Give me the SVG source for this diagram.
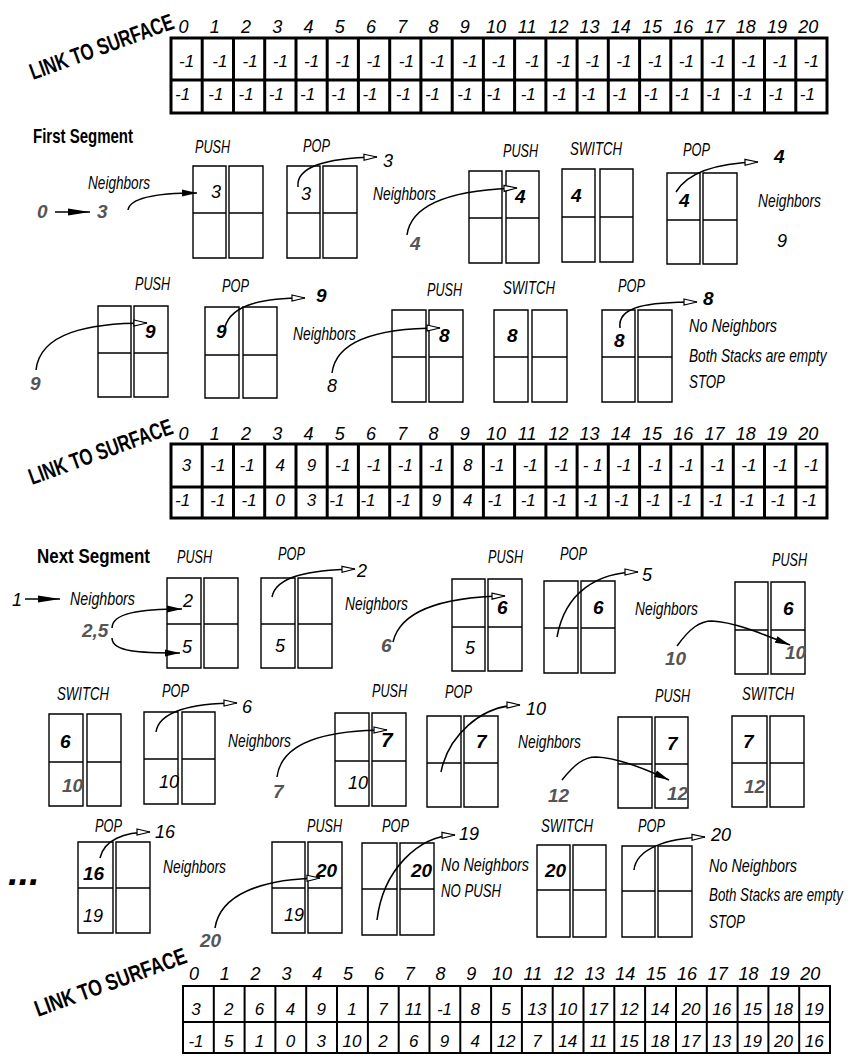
<svg xmlns="http://www.w3.org/2000/svg" width="851" height="1059" viewBox="0 0 851 1059">
<style>
text{font-family:"Liberation Sans",Arial,sans-serif;fill:#000}
.l{font-style:italic;font-size:18px}
.n{font-style:italic;font-size:17px;text-anchor:middle}
.ix{font-style:italic;font-size:18px;text-anchor:middle}
.bn{font-style:italic;font-weight:bold;font-size:19px}
.gn{font-style:italic;font-weight:bold;font-size:19px;fill:#555}
.h{font-weight:bold;font-size:21px}
.lts{font-weight:bold;font-size:23px}
.grid{fill:none;stroke:#000;stroke-width:3}
.grid3{fill:none;stroke:#000;stroke-width:2}
.stk{fill:none;stroke:#000;stroke-width:1.4}
.cv{fill:none;stroke:#000;stroke-width:1.5}
</style>
<defs>
<marker id="ah" markerUnits="userSpaceOnUse" markerWidth="16" markerHeight="10" refX="14" refY="5" orient="auto" viewBox="0 0 16 10"><path d="M1,2 L14,5 L1,8 Z" fill="#fff" stroke="#000" stroke-width="1.2"/></marker>
<marker id="fh" markerUnits="userSpaceOnUse" markerWidth="16" markerHeight="10" refX="15" refY="5" orient="auto" viewBox="0 0 16 10"><path d="M0,1.5 L15,5 L0,8.5 Z" fill="#000"/></marker>
<marker id="fb" markerUnits="userSpaceOnUse" markerWidth="22" markerHeight="8" refX="22" refY="4" orient="auto" viewBox="0 0 22 8"><path d="M0,0.5 L22,4 L0,7.5 Z" fill="#000"/></marker>
</defs>
<rect width="851" height="1059" fill="#fff"/>

<!-- Table 1 -->
<g id="table1">
<text class="lts" transform="translate(33,80) rotate(-20) scale(0.73,1)">LINK TO SURFACE</text>
<text class="ix" y="33"><tspan x="183.5">0</tspan><tspan x="214.7">1</tspan><tspan x="246">2</tspan><tspan x="277.2">3</tspan><tspan x="308.5">4</tspan><tspan x="339.7">5</tspan><tspan x="370.9">6</tspan><tspan x="402.2">7</tspan><tspan x="433.4">8</tspan><tspan x="464.7">9</tspan><tspan x="495.9">10</tspan><tspan x="527.1">11</tspan><tspan x="558.4">12</tspan><tspan x="589.6">13</tspan><tspan x="620.8">14</tspan><tspan x="652.1">15</tspan><tspan x="683.3">16</tspan><tspan x="714.6">17</tspan><tspan x="745.8">18</tspan><tspan x="777">19</tspan><tspan x="808.3">20</tspan></text>
<path class="grid" d="M171,38 H827 V113 H171 Z M171,80 H827 M202.2,38 V113 M233.5,38 V113 M264.7,38 V113 M296,38 V113 M327.2,38 V113 M358.4,38 V113 M389.7,38 V113 M420.9,38 V113 M452.2,38 V113 M483.4,38 V113 M514.6,38 V113 M545.9,38 V113 M577.1,38 V113 M608.3,38 V113 M639.6,38 V113 M670.8,38 V113 M702.1,38 V113 M733.3,38 V113 M764.5,38 V113 M795.8,38 V113"/>
<text class="n" y="67"><tspan x="186.6">-1</tspan><tspan x="219.8">-1</tspan><tspan x="250.1">-1</tspan><tspan x="280.3">-1</tspan><tspan x="311.6">-1</tspan><tspan x="342.8">-1</tspan><tspan x="374">-1</tspan><tspan x="406.3">-1</tspan><tspan x="437.5">-1</tspan><tspan x="469.8">-1</tspan><tspan x="499">-1</tspan><tspan x="532.2">-1</tspan><tspan x="563.5">-1</tspan><tspan x="592.7">-1</tspan><tspan x="623.9">-1</tspan><tspan x="655.2">-1</tspan><tspan x="686.4">-1</tspan><tspan x="717.7">-1</tspan><tspan x="748.9">-1</tspan><tspan x="780.1">-1</tspan><tspan x="811.4">-1</tspan></text>
<text class="n" y="100"><tspan x="182.6">-1</tspan><tspan x="215.8">-1</tspan><tspan x="246.1">-1</tspan><tspan x="276.3">-1</tspan><tspan x="307.6">-1</tspan><tspan x="338.8">-1</tspan><tspan x="370">-1</tspan><tspan x="403.3">-1</tspan><tspan x="432.5">-1</tspan><tspan x="464.8">-1</tspan><tspan x="494">-1</tspan><tspan x="528.2">-1</tspan><tspan x="559.5">-1</tspan><tspan x="588.7">-1</tspan><tspan x="619.9">-1</tspan><tspan x="651.2">-1</tspan><tspan x="682.4">-1</tspan><tspan x="713.7">-1</tspan><tspan x="744.9">-1</tspan><tspan x="776.1">-1</tspan><tspan x="807.4">-1</tspan></text>
</g>

<!-- First segment free labels -->
<g id="first-segment-labels">
<text class="h" x="33" y="143" textLength="100" lengthAdjust="spacingAndGlyphs">First Segment</text>
<text class="l" x="88" y="189" textLength="62" lengthAdjust="spacingAndGlyphs">Neighbors</text>
<text class="gn" x="37" y="218">0</text>
<text class="gn" x="97" y="218">3</text>
<text class="l" x="383" y="167">3</text>
<text class="l" x="373" y="200" textLength="63" lengthAdjust="spacingAndGlyphs">Neighbors</text>
<text class="gn" x="410" y="250">4</text>
<text class="bn" x="774" y="163">4</text>
<text class="l" x="758" y="207" textLength="63" lengthAdjust="spacingAndGlyphs">Neighbors</text>
<text class="l" x="777" y="247">9</text>
<text class="gn" x="30" y="390">9</text>
<text class="bn" x="316" y="302">9</text>
<text class="l" x="293" y="340" textLength="63" lengthAdjust="spacingAndGlyphs">Neighbors</text>
<text class="l" x="327" y="392">8</text>
<text class="bn" x="703" y="305">8</text>
<text class="l" transform="translate(689,332) scale(0.8,1)">No Neighbors</text>
<text class="l" transform="translate(689,362) scale(0.76,1)">Both Stacks are empty</text>
<text class="l" x="689" y="388" textLength="36" lengthAdjust="spacingAndGlyphs">STOP</text>
</g>

<g id="s1-push"><text class="l" x="195" y="153" textLength="35" lengthAdjust="spacingAndGlyphs">PUSH</text><path class="stk" d="M193,166h33v92h-33z M229,166h34v92h-34z M193,213h33 M229,213h34"/><text class="l" x="211" y="198">3</text></g>
<g id="s1-pop"><text class="l" x="303" y="152" textLength="27" lengthAdjust="spacingAndGlyphs">POP</text><path class="stk" d="M287,166h33v92h-33z M323,166h34v92h-34z M287,213h33 M323,213h34"/><text class="l" x="301" y="200">3</text></g>
<g id="s1-push2"><text class="l" x="503" y="157" textLength="35" lengthAdjust="spacingAndGlyphs">PUSH</text><path class="stk" d="M469,171h33v92h-33z M506,171h33v92h-33z M469,218h33 M506,218h33"/><text class="bn" x="515" y="203">4</text></g>
<g id="s1-switch"><text class="l" x="570" y="155" textLength="52" lengthAdjust="spacingAndGlyphs">SWITCH</text><path class="stk" d="M562,169h33v93h-33z M600,169h33v93h-33z M562,217h33 M600,217h33"/><text class="bn" x="571" y="202">4</text></g>
<g id="s1-pop2"><text class="l" x="683" y="156" textLength="27" lengthAdjust="spacingAndGlyphs">POP</text><path class="stk" d="M667,173h33v91h-33z M703,173h34v91h-34z M667,220h33 M703,220h34"/><text class="bn" x="679" y="207">4</text></g>

<g id="s2-push"><text class="l" x="135" y="290" textLength="35" lengthAdjust="spacingAndGlyphs">PUSH</text><path class="stk" d="M98,306h33v91h-33z M134,306h34v91h-34z M98,353h33 M134,353h34"/><text class="bn" x="145" y="338">9</text></g>
<g id="s2-pop"><text class="l" x="222" y="292" textLength="27" lengthAdjust="spacingAndGlyphs">POP</text><path class="stk" d="M205,307h34v91h-34z M243,307h34v91h-34z M205,355h34 M243,355h34"/><text class="bn" x="216" y="338">9</text></g>
<g id="s2-push2"><text class="l" x="427" y="296" textLength="35" lengthAdjust="spacingAndGlyphs">PUSH</text><path class="stk" d="M392,310h34v92h-34z M429,310h34v92h-34z M392,357h34 M429,357h34"/><text class="bn" x="439" y="342">8</text></g>
<g id="s2-switch"><text class="l" x="503" y="294" textLength="52" lengthAdjust="spacingAndGlyphs">SWITCH</text><path class="stk" d="M494,310h34v92h-34z M532,310h35v92h-35z M494,357h34 M532,357h35"/><text class="bn" x="507" y="342">8</text></g>
<g id="s2-pop2"><text class="l" x="618" y="292" textLength="27" lengthAdjust="spacingAndGlyphs">POP</text><path class="stk" d="M602,310h33v92h-33z M638,310h34v92h-34z M602,357h33 M638,357h34"/><text class="bn" x="614" y="347">8</text></g>

<!-- Table 2 -->
<g id="table2">
<text class="lts" transform="translate(32,485) rotate(-20) scale(0.73,1)">LINK TO SURFACE</text>
<text class="ix" y="440"><tspan x="183.5">0</tspan><tspan x="214.7">1</tspan><tspan x="246">2</tspan><tspan x="277.2">3</tspan><tspan x="308.5">4</tspan><tspan x="339.7">5</tspan><tspan x="370.9">6</tspan><tspan x="402.2">7</tspan><tspan x="433.4">8</tspan><tspan x="464.7">9</tspan><tspan x="495.9">10</tspan><tspan x="527.1">11</tspan><tspan x="558.4">12</tspan><tspan x="589.6">13</tspan><tspan x="620.8">14</tspan><tspan x="652.1">15</tspan><tspan x="683.3">16</tspan><tspan x="714.6">17</tspan><tspan x="745.8">18</tspan><tspan x="777">19</tspan><tspan x="808.3">20</tspan></text>
<path class="grid" d="M171,444 H827 V518 H171 Z M171,487 H827 M202.2,444 V518 M233.5,444 V518 M264.7,444 V518 M296,444 V518 M327.2,444 V518 M358.4,444 V518 M389.7,444 V518 M420.9,444 V518 M452.2,444 V518 M483.4,444 V518 M514.6,444 V518 M545.9,444 V518 M577.1,444 V518 M608.3,444 V518 M639.6,444 V518 M670.8,444 V518 M702.1,444 V518 M733.3,444 V518 M764.5,444 V518 M795.8,444 V518"/>
<text class="n" y="471"><tspan x="186.6">3</tspan><tspan x="217.8">-1</tspan><tspan x="247.1">-1</tspan><tspan x="280.3">4</tspan><tspan x="311.6">9</tspan><tspan x="342.8">-1</tspan><tspan x="374">-1</tspan><tspan x="405.3">-1</tspan><tspan x="436.5">-1</tspan><tspan x="467.8">8</tspan><tspan x="497">-1</tspan><tspan x="530.2">-1</tspan><tspan x="561.5">-1</tspan><tspan x="592.7">- 1</tspan><tspan x="623.9">-1</tspan><tspan x="655.2">-1</tspan><tspan x="686.4">-1</tspan><tspan x="717.7">-1</tspan><tspan x="748.9">-1</tspan><tspan x="780.1">-1</tspan><tspan x="811.4">-1</tspan></text>
<text class="n" y="506"><tspan x="182.6">-1</tspan><tspan x="217.8">-1</tspan><tspan x="249.1">-1</tspan><tspan x="280.3">0</tspan><tspan x="311.6">3</tspan><tspan x="336.8">-1</tspan><tspan x="368">-1</tspan><tspan x="403.3">-1</tspan><tspan x="436.5">9</tspan><tspan x="467.8">4</tspan><tspan x="495">-1</tspan><tspan x="528.2">-1</tspan><tspan x="559.5">-1</tspan><tspan x="590.7">-1</tspan><tspan x="621.9">-1</tspan><tspan x="653.2">-1</tspan><tspan x="684.4">-1</tspan><tspan x="715.7">-1</tspan><tspan x="746.9">-1</tspan><tspan x="778.1">-1</tspan><tspan x="809.4">-1</tspan></text>
</g>

<!-- Next segment free labels -->
<g id="next-segment-labels">
<text class="h" x="37" y="563" textLength="113" lengthAdjust="spacingAndGlyphs">Next Segment</text>
<text class="l" x="12" y="606">1</text>
<text class="l" x="70" y="605" textLength="65" lengthAdjust="spacingAndGlyphs">Neighbors</text>
<text class="gn" x="82" y="637">2,5</text>
<text class="l" x="357" y="577">2</text>
<text class="l" x="345" y="610" textLength="63" lengthAdjust="spacingAndGlyphs">Neighbors</text>
<text class="gn" x="381" y="652">6</text>
<text class="l" x="642" y="581">5</text>
<text class="l" x="635" y="615" textLength="63" lengthAdjust="spacingAndGlyphs">Neighbors</text>
<text class="gn" x="665" y="665">10</text>
<text class="l" x="242" y="713">6</text>
<text class="l" x="228" y="747" textLength="63" lengthAdjust="spacingAndGlyphs">Neighbors</text>
<text class="gn" x="273" y="798">7</text>
<text class="l" x="526" y="715">10</text>
<text class="l" x="518" y="748" textLength="63" lengthAdjust="spacingAndGlyphs">Neighbors</text>
<text class="gn" x="548" y="802">12</text>
<text class="l" x="155" y="838">16</text>
<text class="bn" x="8" y="885" style="font-size:38px">...</text>
<text class="l" x="163" y="873" textLength="63" lengthAdjust="spacingAndGlyphs">Neighbors</text>
<text class="gn" x="200" y="947">20</text>
<text class="l" x="459" y="840">19</text>
<text class="l" transform="translate(441,871) scale(0.8,1)">No Neighbors</text>
<text class="l" x="441" y="897" textLength="60" lengthAdjust="spacingAndGlyphs">NO PUSH</text>
<text class="l" x="711" y="841">20</text>
<text class="l" transform="translate(709,872) scale(0.8,1)">No Neighbors</text>
<text class="l" transform="translate(709,901) scale(0.74,1)">Both Stacks are empty</text>
<text class="l" x="709" y="928" textLength="36" lengthAdjust="spacingAndGlyphs">STOP</text>
</g>

<g id="n1-push"><text class="l" x="177" y="563" textLength="35" lengthAdjust="spacingAndGlyphs">PUSH</text><path class="stk" d="M167,578h34v90h-34z M204,578h34v90h-34z M167,624h34 M204,624h34"/><text class="l" x="183" y="607">2</text><text class="l" x="182" y="653">5</text></g>
<g id="n1-pop"><text class="l" x="278" y="560" textLength="27" lengthAdjust="spacingAndGlyphs">POP</text><path class="stk" d="M261,578h34v90h-34z M298,578h34v90h-34z M261,624h34 M298,624h34"/><text class="l" x="275" y="652">5</text></g>
<g id="n1-push2"><text class="l" x="488" y="563" textLength="35" lengthAdjust="spacingAndGlyphs">PUSH</text><path class="stk" d="M452,579h33v92h-33z M488,579h34v92h-34z M452,627h33 M488,627h34"/><text class="bn" x="497" y="614">6</text><text class="l" x="465" y="654">5</text></g>
<g id="n1-pop2"><text class="l" x="560" y="560" textLength="27" lengthAdjust="spacingAndGlyphs">POP</text><path class="stk" d="M544,581h34v92h-34z M581,581h34v92h-34z M544,628h34 M581,628h34"/><text class="bn" x="593" y="614">6</text></g>
<g id="n1-push3"><text class="l" x="772" y="566" textLength="35" lengthAdjust="spacingAndGlyphs">PUSH</text><path class="stk" d="M735,582h33v92h-33z M771,582h34v92h-34z M735,630h33 M771,630h34"/><text class="bn" x="783" y="615">6</text><text class="gn" x="785" y="659">10</text></g>

<g id="n2-switch"><text class="l" x="57" y="700" textLength="52" lengthAdjust="spacingAndGlyphs">SWITCH</text><path class="stk" d="M49,714h34v92h-34z M87,714h34v92h-34z M49,762h34 M87,762h34"/><text class="bn" x="60" y="748">6</text><text class="gn" x="62" y="792">10</text></g>
<g id="n2-pop"><text class="l" x="162" y="697" textLength="27" lengthAdjust="spacingAndGlyphs">POP</text><path class="stk" d="M144,712h34v92h-34z M182,712h33v92h-33z M144,759h34 M182,759h33"/><text class="l" x="159" y="788">10</text></g>
<g id="n2-push"><text class="l" x="372" y="697" textLength="35" lengthAdjust="spacingAndGlyphs">PUSH</text><path class="stk" d="M335,713h34v93h-34z M372,713h34v93h-34z M335,761h34 M372,761h34"/><text class="bn" x="381" y="747" style="font-size:21px">7</text><text class="l" x="348" y="789">10</text></g>
<g id="n2-pop2"><text class="l" x="445" y="698" textLength="27" lengthAdjust="spacingAndGlyphs">POP</text><path class="stk" d="M427,716h34v91h-34z M464,716h34v91h-34z M427,763h34 M464,763h34"/><text class="bn" x="476" y="748">7</text></g>
<g id="n2-push2"><text class="l" x="655" y="702" textLength="35" lengthAdjust="spacingAndGlyphs">PUSH</text><path class="stk" d="M618,717h34v91h-34z M655,717h33v91h-33z M618,764h34 M655,764h33"/><text class="bn" x="667" y="750">7</text><text class="gn" x="667" y="800">12</text></g>
<g id="n2-switch2"><text class="l" x="742" y="700" textLength="52" lengthAdjust="spacingAndGlyphs">SWITCH</text><path class="stk" d="M732,716h35v91h-35z M770,716h34v91h-34z M732,763h35 M770,763h34"/><text class="bn" x="743" y="748">7</text><text class="gn" x="744" y="793">12</text></g>

<g id="n3-pop"><text class="l" x="95" y="832" textLength="27" lengthAdjust="spacingAndGlyphs">POP</text><path class="stk" d="M78,842h35v91h-35z M116,842h34v91h-34z M78,888h35 M116,888h34"/><text class="bn" x="83" y="880">16</text><text class="l" x="83" y="922">19</text></g>
<g id="n3-push"><text class="l" x="307" y="832" textLength="35" lengthAdjust="spacingAndGlyphs">PUSH</text><path class="stk" d="M272,842h33v91h-33z M308,842h34v91h-34z M272,888h33 M308,888h34"/><text class="bn" x="316" y="877">20</text><text class="l" x="284" y="921">19</text></g>
<g id="n3-pop2"><text class="l" x="382" y="832" textLength="27" lengthAdjust="spacingAndGlyphs">POP</text><path class="stk" d="M362,843h35v92h-35z M400,843h34v92h-34z M362,889h35 M400,889h34"/><text class="bn" x="411" y="877">20</text></g>
<g id="n3-switch"><text class="l" x="541" y="832" textLength="52" lengthAdjust="spacingAndGlyphs">SWITCH</text><path class="stk" d="M537,845h33v92h-33z M573,845h33v92h-33z M537,890h33 M573,890h33"/><text class="bn" x="545" y="877">20</text></g>
<g id="n3-pop3"><text class="l" x="638" y="832" textLength="27" lengthAdjust="spacingAndGlyphs">POP</text><path class="stk" d="M622,846h33v91h-33z M658,846h34v91h-34z M622,891h33 M658,891h34"/></g>

<!-- Table 3 -->
<g id="table3">
<text class="lts" transform="translate(38,1017) rotate(-20) scale(0.77,1)">LINK TO SURFACE</text>
<text class="ix" y="980"><tspan x="194">0</tspan><tspan x="224.8">1</tspan><tspan x="255.6">2</tspan><tspan x="286.4">3</tspan><tspan x="317.2">4</tspan><tspan x="348">5</tspan><tspan x="378.9">6</tspan><tspan x="409.7">7</tspan><tspan x="440.5">8</tspan><tspan x="471.3">9</tspan><tspan x="502.1">10</tspan><tspan x="532.9">11</tspan><tspan x="563.7">12</tspan><tspan x="594.5">13</tspan><tspan x="625.3">14</tspan><tspan x="656.1">15</tspan><tspan x="687">16</tspan><tspan x="717.8">17</tspan><tspan x="748.6">18</tspan><tspan x="779.4">19</tspan><tspan x="810.2">20</tspan></text>
<path class="grid3" d="M183,986 H830 V1053 H183 Z M183,1022 H830 M213.8,986 V1053 M244.6,986 V1053 M275.4,986 V1053 M306.2,986 V1053 M337,986 V1053 M367.9,986 V1053 M398.7,986 V1053 M429.5,986 V1053 M460.3,986 V1053 M491.1,986 V1053 M521.9,986 V1053 M552.7,986 V1053 M583.5,986 V1053 M614.3,986 V1053 M645.1,986 V1053 M676,986 V1053 M706.8,986 V1053 M737.6,986 V1053 M768.4,986 V1053 M799.2,986 V1053"/>
<text class="n" y="1015"><tspan x="196">3</tspan><tspan x="228.8">2</tspan><tspan x="259.6">6</tspan><tspan x="290.4">4</tspan><tspan x="321.2">9</tspan><tspan x="352">1</tspan><tspan x="382.9">7</tspan><tspan x="413.7">11</tspan><tspan x="444.5">-1</tspan><tspan x="475.3">8</tspan><tspan x="506.1">5</tspan><tspan x="536.9">13</tspan><tspan x="567.7">10</tspan><tspan x="598.5">17</tspan><tspan x="629.3">12</tspan><tspan x="660.1">14</tspan><tspan x="691">20</tspan><tspan x="721.8">16</tspan><tspan x="752.6">15</tspan><tspan x="783.4">18</tspan><tspan x="814.2">19</tspan></text>
<text class="n" y="1047"><tspan x="196">-1</tspan><tspan x="228.8">5</tspan><tspan x="259.6">1</tspan><tspan x="290.4">0</tspan><tspan x="321.2">3</tspan><tspan x="352">10</tspan><tspan x="382.9">2</tspan><tspan x="413.7">6</tspan><tspan x="444.5">9</tspan><tspan x="475.3">4</tspan><tspan x="506.1">12</tspan><tspan x="536.9">7</tspan><tspan x="567.7">14</tspan><tspan x="598.5">11</tspan><tspan x="629.3">15</tspan><tspan x="660.1">18</tspan><tspan x="691">17</tspan><tspan x="721.8">13</tspan><tspan x="752.6">19</tspan><tspan x="783.4">20</tspan><tspan x="814.2">16</tspan></text>
</g>

<!-- Connectors -->
<g id="connectors">
<path class="cv" d="M55,212 L90,212" marker-end="url(#fb)"/>
<path class="cv" d="M128,210 C130,197 160,193 197,193" marker-end="url(#fh)"/>
<path class="cv" d="M298,187 C296,168 322,158 377,157" marker-end="url(#ah)"/>
<path class="cv" d="M407,235 C411,205 450,190 517,188" marker-end="url(#ah)"/>
<path class="cv" d="M676,192 C688,172 718,163 758,162" marker-end="url(#ah)"/>
<path class="cv" d="M36,370 C40,333 88,323 147,323" marker-end="url(#ah)"/>
<path class="cv" d="M224,332 C227,306 258,298 305,298" marker-end="url(#ah)"/>
<path class="cv" d="M332,373 C336,341 375,328 440,328" marker-end="url(#ah)"/>
<path class="cv" d="M620,328 C617,306 648,302 697,302" marker-end="url(#ah)"/>
<path class="cv" d="M25,599 L60,599" marker-end="url(#fb)"/>
<path class="cv" d="M112,628 C112,613 140,609 182,609" marker-end="url(#fh)"/>
<path class="cv" d="M112,638 C112,652 140,653 180,653" marker-end="url(#fh)"/>
<path class="cv" d="M272,597 C276,576 310,570 355,569" marker-end="url(#ah)"/>
<path class="cv" d="M393,642 C400,612 440,597 505,596" marker-end="url(#ah)"/>
<path class="cv" d="M557,637 C565,592 598,572 638,572" marker-end="url(#ah)"/>
<path class="cv" d="M677,646 C690,628 700,621 712,621 C735,622 765,635 790,645" marker-end="url(#fh)"/>
<path class="cv" d="M156,732 C159,712 190,703 237,703" marker-end="url(#ah)"/>
<path class="cv" d="M277,777 C281,745 320,730 387,730" marker-end="url(#ah)"/>
<path class="cv" d="M441,772 C448,737 480,705 520,705" marker-end="url(#ah)"/>
<path class="cv" d="M562,780 C575,764 584,757 596,757 C620,758 648,770 669,780" marker-end="url(#fh)"/>
<path class="cv" d="M100,858 C104,840 124,832 150,832" marker-end="url(#ah)"/>
<path class="cv" d="M215,928 C220,895 260,879 320,878" marker-end="url(#ah)"/>
<path class="cv" d="M377,920 C383,870 418,836 455,835" marker-end="url(#ah)"/>
<path class="cv" d="M634,870 C636,850 664,838 705,837" marker-end="url(#ah)"/>
</g>
</svg>
